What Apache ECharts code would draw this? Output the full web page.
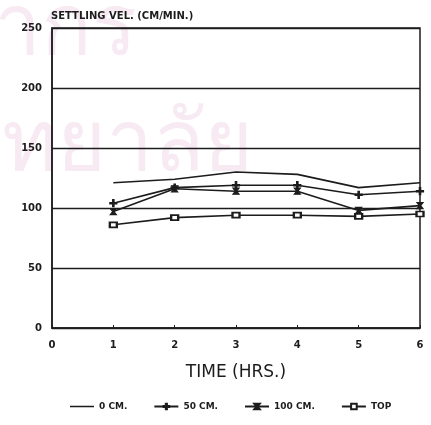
<!DOCTYPE html>
<html>
<head>
<meta charset="utf-8">
<script src="https://cdn.jsdelivr.net/npm/echarts@6/dist/echarts.min.js"></script>
<style>
  html, body { margin: 0; padding: 0; background: #ffffff; }
  #chart { width: 431px; height: 425px; }
</style>
</head>
<body>
<div id="chart"></div>
<script>
// Settling velocity (cm/min) against elapsed time at several depths
const hours = [1, 2, 3, 4, 5, 6];
const depth0cm   = [121, 124, 130, 128, 117, 121];
const depth50cm  = [104, 117, 119, 119, 111, 114];
const depth100cm = [97, 116, 114, 114, 98, 102];
const depthTop   = [86, 92, 94, 94, 93, 95];
const seriesNames = ['0 CM.', '50 CM.', '100 CM.', 'TOP'];
const xTicks = [0, 1, 2, 3, 4, 5, 6];
const yTicks = [0, 50, 100, 150, 200, 250];

const INK = '#1c1c1c';
const FONT = 'DejaVu Sans';

const plusPath = 'path://M4,0 H6 V4 H10 V6 H6 V10 H4 V6 H0 V4 H4 Z';
const bowPath = 'path://M0,0 L10,0 L6,5 L10,10 L0,10 L4,5 Z';
const thinLinePath = 'path://M0,0 H22 V1.4 H0 Z';

function pairs(vals) {
  return hours.map((h, i) => [h, vals[i]]);
}

function lineSeries(name, vals, symbol, size) {
  return {
    name: name,
    type: 'line',
    data: pairs(vals),
    symbol: symbol,
    symbolSize: size,
    showSymbol: symbol !== 'none',
    lineStyle: { color: INK, width: 1.6 },
    itemStyle: { color: INK, borderColor: INK, borderWidth: 1.2 },
    emphasis: { disabled: true },
    animation: false
  };
}

const chart = echarts.init(document.getElementById('chart'), null, { renderer: 'canvas' });
chart.setOption({
  backgroundColor: '#ffffff',
  animation: false,
  title: {
    text: 'SETTLING VEL. (CM/MIN.)',
    left: 46,
    top: 6,
    textStyle: { fontFamily: FONT, fontSize: 10, fontWeight: 'bold', color: INK }
  },
  graphic: [
    {
      type: 'text', left: -6, top: -12, z: -10, silent: true,
      style: { text: 'ากร', font: '84px "Noto Sans", "DejaVu Sans", sans-serif', fill: 'rgba(225,180,210,0.28)' }
    },
    {
      type: 'text', left: 2, top: 104, z: -10, silent: true,
      style: { text: 'ทยาลัย', font: '84px "Noto Sans", "DejaVu Sans", sans-serif', fill: 'rgba(225,180,210,0.28)' }
    }
  ],
  grid: { left: 52, right: 11, top: 28, bottom: 97, show: true, borderColor: INK, borderWidth: 1.5, backgroundColor: 'transparent' },
  legend: {
    bottom: 9,
    left: 65,
    itemWidth: 24,
    itemHeight: 7,
    itemGap: 26,
    symbolKeepAspect: true,
    data: [
      { name: seriesNames[0], icon: thinLinePath, itemStyle: { color: INK, borderWidth: 0 } },
      { name: seriesNames[1] },
      { name: seriesNames[2] },
      { name: seriesNames[3] }
    ],
    textStyle: { fontFamily: FONT, fontSize: 9, fontWeight: 'bold', color: INK }
  },
  xAxis: {
    type: 'value',
    min: 0,
    max: 6,
    interval: 1,
    name: 'TIME (HRS.)',
    nameLocation: 'middle',
    nameGap: 36,
    nameTextStyle: { fontFamily: FONT, fontSize: 17, color: INK },
    axisLine: { lineStyle: { color: INK, width: 1.5 } },
    axisTick: { show: true, inside: true, length: 3, lineStyle: { color: INK } },
    axisLabel: {
      fontFamily: FONT, fontSize: 10, fontWeight: 'bold', color: INK, margin: 12,
      formatter: v => xTicks.includes(v) ? String(v) : ''
    },
    splitLine: { show: false }
  },
  yAxis: {
    type: 'value',
    min: 0,
    max: 250,
    interval: 50,
    axisLine: { show: true, lineStyle: { color: INK, width: 1.5 } },
    axisTick: { show: false },
    axisLabel: {
      fontFamily: FONT, fontSize: 10, fontWeight: 'bold', color: INK, margin: 10,
      formatter: v => yTicks.includes(v) ? String(v) : ''
    },
    splitLine: { show: true, lineStyle: { color: INK, width: 1.3 } }
  },
  series: [
    lineSeries(seriesNames[0], depth0cm, 'none', 0),
    lineSeries(seriesNames[1], depth50cm, plusPath, 7),
    lineSeries(seriesNames[2], depth100cm, bowPath, 6),
    lineSeries(seriesNames[3], depthTop, 'emptyRect', [7, 5])
  ]
});
</script>
</body>
</html>
